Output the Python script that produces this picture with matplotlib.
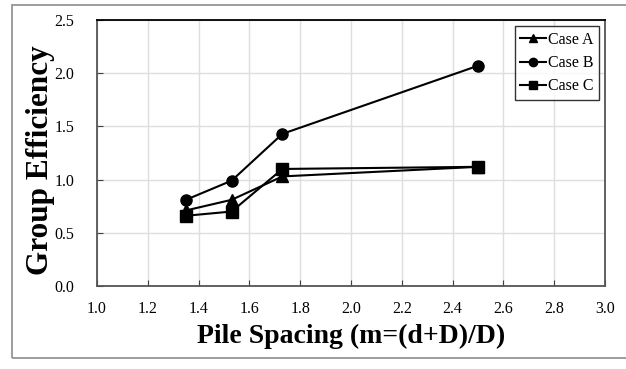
import matplotlib
matplotlib.use("Agg")
import matplotlib.pyplot as plt
from matplotlib.patches import Rectangle

spacing = [1.35, 1.53, 1.73, 2.5]
case_a = [0.71, 0.81, 1.03, 1.12]
case_b = [0.81, 0.99, 1.43, 2.07]
case_c = [0.66, 0.70, 1.10, 1.12]
labels = ["Case A", "Case B", "Case C"]
xticks = [1.0, 1.2, 1.4, 1.6, 1.8, 2.0, 2.2, 2.4, 2.6, 2.8, 3.0]
yticks = [0.0, 0.5, 1.0, 1.5, 2.0, 2.5]

plt.rcParams['font.family'] = ['Liberation Serif', 'DejaVu Serif']

W, H = 626, 369
fig = plt.figure(figsize=(W / 100, H / 100), dpi=100)
ax = fig.add_axes([97 / W, 1 - 286 / H, (605 - 97) / W, (286 - 20) / H])

# outer frame
fig.patches.append(Rectangle((12 / W, 1 - 358 / H), 1.2, (358 - 5) / H,
                             transform=fig.transFigure, fill=False,
                             edgecolor='#8c8c8c', linewidth=1.2, clip_on=False))

for ys, m, lab in zip([case_a, case_b, case_c], ['^', 'o', 's'], labels):
    ax.plot(spacing, ys, color='black', marker=m, markersize=8, linewidth=1.5,
            label=lab, zorder=3)

ax.set_xlim(1.0, 3.0)
ax.set_ylim(0.0, 2.5)
ax.set_xticks(xticks)
ax.set_yticks(yticks)
ax.set_xticklabels([f"{v:.1f}" for v in xticks], fontsize=11.5)
ax.set_yticklabels([f"{v:.1f}" for v in yticks], fontsize=11.5)
ax.tick_params(direction='in', length=4, width=0.8, colors='#404040',
               labelcolor='black')
ax.tick_params(axis='x', pad=11)
ax.tick_params(axis='y', pad=16.5)
ax.grid(True, color='#dedede', linewidth=1.0)
ax.set_axisbelow(True)
for s in ax.spines.values():
    s.set_color('#555555')
    s.set_linewidth(1.3)
ax.spines['top'].set_color('black')

ax.set_xlabel("Pile Spacing (m=(d+D)/D)", fontsize=20, fontweight='bold', labelpad=5)
ax.set_ylabel("Group Efficiency", fontsize=22.5, fontweight='bold')
ax.yaxis.set_label_coords(-0.082, 0.474)

leg = ax.legend(loc='upper right', fontsize=11.5, frameon=True, fancybox=False,
                edgecolor='black', handlelength=1.6, handletextpad=0.1,
                borderaxespad=0.4, labelspacing=0.45, markerscale=0.75,
                borderpad=0.35)
leg.get_frame().set_linewidth(1.0)

fig.savefig("out.png", dpi=100)
